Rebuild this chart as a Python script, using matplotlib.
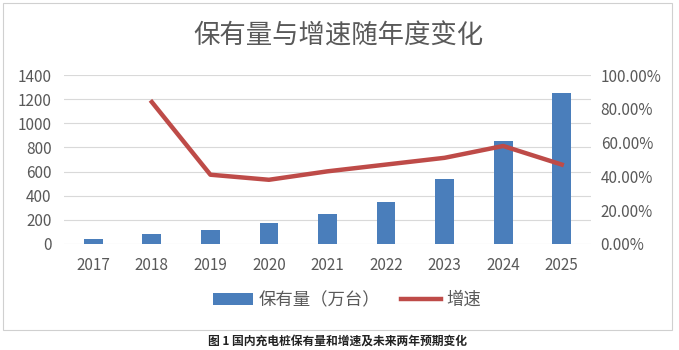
import matplotlib.pyplot as plt
from matplotlib.patches import Rectangle
from matplotlib.ticker import FuncFormatter

plt.rcParams['font.family'] = ['Noto Sans CJK SC', 'DejaVu Sans']

years = ["2017", "2018", "2019", "2020", "2021", "2022", "2023", "2024", "2025"]
stock = [40, 85, 120, 170, 245, 350, 535, 850, 1250]          # 保有量（万台）
growth_years = ["2018", "2019", "2020", "2021", "2022", "2023", "2024", "2025"]
growth = [0.84, 0.41, 0.38, 0.43, 0.47, 0.51, 0.58, 0.47]     # 增速

BAR_C = "#4A7EBB"
LINE_C = "#BE4B48"
TXT_C = "#595959"

fig = plt.figure(figsize=(6.79, 3.5), dpi=100)
fig.patches.append(Rectangle((3 / 679, 1 - 330 / 350), 669 / 679, 327 / 350,
                             transform=fig.transFigure, fill=False,
                             edgecolor="#D0D0D0", linewidth=0.8))

ax = fig.add_axes([64 / 679, 1 - 244 / 350, 527 / 679, 169 / 350])
x = list(range(len(years)))
ax.bar(x, stock, width=0.32, color=BAR_C, zorder=2, label="保有量（万台）")
ax.set_xlim(-0.5, len(years) - 0.5)
ax.set_ylim(0, 1400)
ax.set_yticks(range(0, 1401, 200))
ax.set_xticks(x)
ax.set_xticklabels(years)
ax.grid(axis="y", color="#D9D9D9", linewidth=0.8, zorder=0)
for s in ax.spines.values():
    s.set_visible(False)
ax.tick_params(length=0, colors=TXT_C, labelsize=11)
ax.tick_params(axis="x", pad=9)
ax.tick_params(axis="y", pad=9)

ax2 = ax.twinx()
gx = [years.index(y) for y in growth_years]
ax2.plot(gx, growth, color=LINE_C, linewidth=3.2, zorder=3, label="增速")
ax2.set_ylim(0, 1.0)
ax2.set_yticks([0, 0.2, 0.4, 0.6, 0.8, 1.0])
ax2.yaxis.set_major_formatter(FuncFormatter(lambda v, p: f"{v * 100:.2f}%"))
for s in ax2.spines.values():
    s.set_visible(False)
ax2.tick_params(length=0, colors=TXT_C, labelsize=11, pad=7)

fig.text(338 / 679, 1 - 36 / 350, "保有量与增速随年度变化", ha="center", va="center",
         fontsize=19, color=TXT_C)

h1, l1 = ax.get_legend_handles_labels()
h2, l2 = ax2.get_legend_handles_labels()
fig.legend(h1 + h2, l1 + l2, loc="center", bbox_to_anchor=(347 / 679, 1 - 300 / 350),
           ncol=2, frameon=False, fontsize=12.5, labelcolor=TXT_C,
           handlelength=2.3, handleheight=0.7, columnspacing=1.2, handletextpad=0.3)

fig.text(338 / 679, 1 - 341 / 350, "图 1 国内充电桩保有量和增速及未来两年预期变化",
         ha="center", va="center", fontsize=8.5, fontweight="bold", color="#222222")

fig.savefig("out.png", dpi=100)
